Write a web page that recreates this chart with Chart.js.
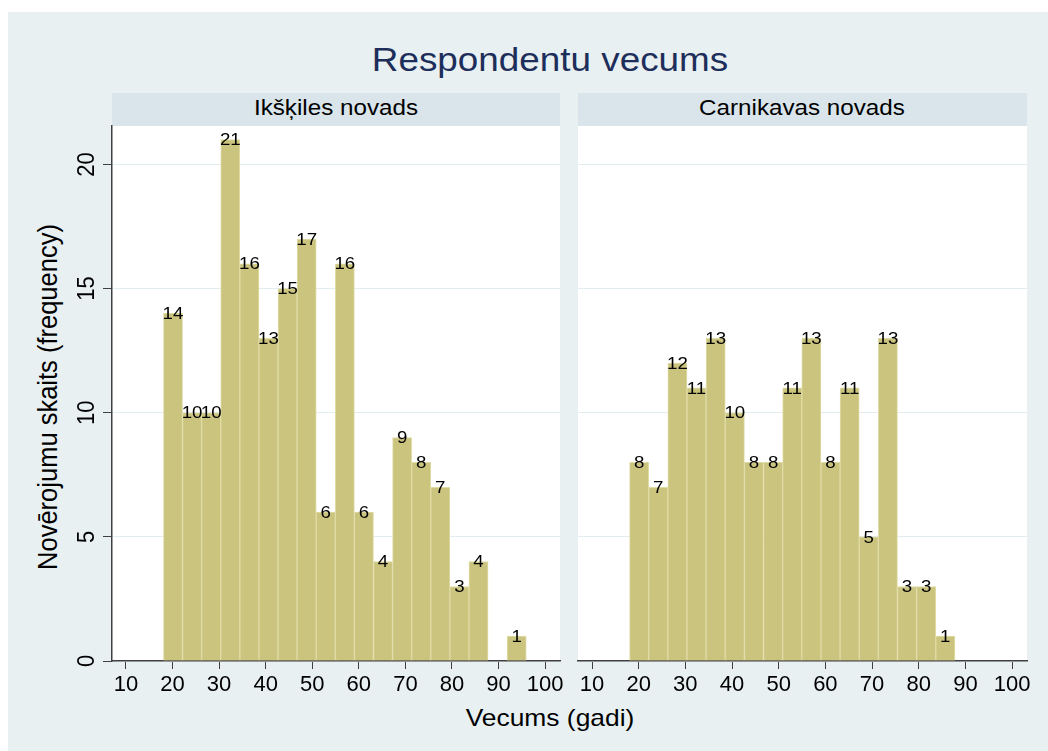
<!DOCTYPE html>
<html>
<head>
<meta charset="utf-8">
<script src="https://cdn.jsdelivr.net/npm/chart.js@4.4.1/dist/chart.umd.min.js"></script>
<style>
  html, body { margin: 0; padding: 0; background: #fff; }
  body { width: 1048px; height: 751px; position: relative; overflow: hidden;
         font-family: 'Liberation Sans', Arial, sans-serif; }
  #bg { position: absolute; left: 8px; top: 12px; right: 0; bottom: 0; background: #E8F0F2; }
  .strip { position: absolute; top: 93px; height: 33px; background: #D9E5EA; }
  .txt { position: absolute; white-space: nowrap; text-align: center; color: #000;
         transform: scaleX(1.1); transform-origin: center; }
  canvas { position: absolute; }
</style>
</head>
<body>
<div id="bg"></div>
<div class="strip" style="left:112px;width:448px"></div>
<div class="strip" style="left:578px;width:449px"></div>

<div class="txt" style="left:350px;width:400px;top:42.6px;font-size:33.5px;line-height:33.5px;color:#1E2E5A">Respondentu vecums</div>
<div class="txt" style="left:186px;width:300px;top:96.7px;font-size:22px;line-height:22px">Ikšķiles novads</div>
<div class="txt" style="left:652px;width:300px;top:96.7px;font-size:22px;line-height:22px">Carnikavas novads</div>
<div class="txt" style="left:400px;width:300px;top:706.4px;font-size:24px;line-height:24px">Vecums (gadi)</div>
<div class="txt" style="left:-152px;width:400px;top:385px;font-size:25.5px;line-height:24px;transform:rotate(-90deg) scaleY(1.05)">Novērojumu skaits (frequency)</div>

<canvas id="left" width="562" height="590" style="left:8px;top:120px"></canvas>
<canvas id="right" width="478" height="590" style="left:570px;top:120px"></canvas>

<script>
// histogram bins (centres, years) shared by both panels
const AGE_BINS = [20.1, 24.2, 28.3, 32.4, 36.5, 40.6, 44.7, 48.8, 52.9, 57.0,
                  61.1, 65.2, 69.3, 73.4, 77.5, 81.6, 85.7, 89.8, 93.9];
const IKSKILE = [14, 10, 10, 21, 16, 13, 15, 17, 6, 16, 6, 4, 9, 8, 7, 3, 4, 0, 1];
const CARNIKAVA = [8, 7, 12, 11, 13, 10, 8, 8, 11, 13, 8, 11, 5, 13, 3, 3, 1, 0, 0];
const X_TICKS = [10, 20, 30, 40, 50, 60, 70, 80, 90, 100];
const Y_TICKS = [0, 5, 10, 15, 20];

const FONT = "'Liberation Sans', Arial, sans-serif";
const AXIS_COLOR = '#404040';

const plotBg = {
  id: 'plotBg',
  beforeDraw(chart) {
    const a = chart.chartArea;
    const ctx = chart.ctx;
    ctx.save();
    ctx.fillStyle = '#fff';
    ctx.fillRect(a.left, a.top, a.right - a.left, a.bottom - a.top);
    ctx.restore();
  }
};

const barLabels = {
  id: 'barLabels',
  afterDatasetsDraw(chart) {
    const ctx = chart.ctx;
    const vals = chart.data.datasets[0].counts;
    const meta = chart.getDatasetMeta(0);
    ctx.save();
    ctx.fillStyle = '#000';
    ctx.font = '17px ' + FONT;
    ctx.textAlign = 'center';
    ctx.textBaseline = 'middle';
    meta.data.forEach((bar, i) => {
      if (!vals[i]) return;
      ctx.save();
      ctx.translate(bar.x, bar.y + 1);
      ctx.scale(1.1, 1);
      ctx.fillText(String(vals[i]), 0, 0);
      ctx.restore();
    });
    ctx.restore();
  }
};

// rotated y tick labels (left panel only)
const yLabels = {
  id: 'yLabels',
  afterDraw(chart) {
    if (!chart.options.showYLabels) return;
    const ctx = chart.ctx;
    const y = chart.scales.y;
    ctx.save();
    ctx.fillStyle = '#000';
    ctx.font = '22px ' + FONT;
    ctx.textAlign = 'center';
    ctx.textBaseline = 'alphabetic';
    Y_TICKS.forEach(v => {
      ctx.save();
      ctx.translate(86, y.getPixelForValue(v));
      ctx.scale(1.1, 1);
      ctx.rotate(-Math.PI / 2);
      ctx.fillText(String(v), 0, 0);
      ctx.restore();
    });
    ctx.restore();
  }
};

function makePanel(id, counts, showY, padRight, yWidth) {
  return new Chart(document.getElementById(id), {
    type: 'bar',
    data: {
      datasets: [{
        counts: counts,
        data: AGE_BINS.map((x, i) => ({ x: x, y: counts[i] || null })),
        backgroundColor: 'rgb(203,196,127)',
        borderColor: 'rgb(224,220,166)',
        borderWidth: 1,
        barPercentage: 1,
        categoryPercentage: 1
      }]
    },
    options: {
      responsive: false,
      animation: false,
      showYLabels: showY,
      layout: { padding: { top: 6, right: padRight, bottom: 0, left: 0 } },
      plugins: { legend: { display: false }, tooltip: { enabled: false } },
      scales: {
        x: {
          type: 'linear',
          min: 7,
          max: 103.2,
          offset: false,
          afterBuildTicks: s => { s.ticks = X_TICKS.map(v => ({ value: v })); },
          afterFit: s => { s.height = 49; },
          ticks: { color: '#000', font: { family: FONT, size: 22 }, padding: 3,
                   maxRotation: 0, autoSkip: false },
          grid: { drawOnChartArea: false, drawTicks: true, tickLength: 8,
                  tickColor: AXIS_COLOR, offset: false },
          border: { display: true, color: AXIS_COLOR, width: 1.5 }
        },
        y: {
          min: 0,
          max: 21.55,
          afterBuildTicks: s => { s.ticks = Y_TICKS.map(v => ({ value: v })); },
          afterFit: s => { s.width = yWidth; },
          ticks: { display: false },
          grid: { color: '#E3ECF0', lineWidth: 1, drawTicks: showY, tickLength: 9,
                  tickColor: AXIS_COLOR },
          border: { display: showY, color: AXIS_COLOR, width: 1.5 }
        }
      }
    },
    plugins: [plotBg, barLabels, yLabels]
  });
}

makePanel('left', IKSKILE, true, 10, 104);
makePanel('right', CARNIKAVA, false, 21, 8);
</script>
</body>
</html>
